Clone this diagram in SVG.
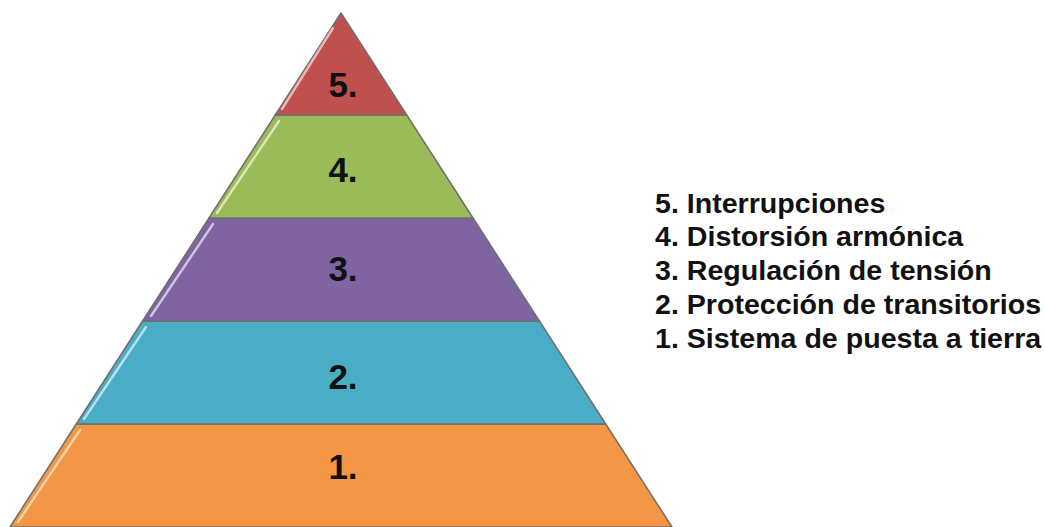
<svg xmlns="http://www.w3.org/2000/svg" width="1045" height="527" viewBox="0 0 1045 527">
  <style>
    .band { stroke: #6f6f6f; stroke-width: 1.5; stroke-linejoin: round; }
    .hl { fill: none; stroke-width: 2.4; stroke-linecap: round; opacity: 0.8; }
    .num { font-family: "Liberation Sans", Arial, sans-serif; font-weight: bold; font-size: 35px; fill: #111; text-anchor: middle; }
    .leg { font-family: "Liberation Sans", Arial, sans-serif; font-weight: bold; font-size: 27.5px; fill: #111; }
  </style>
  <rect width="1045" height="527" fill="#ffffff"/>
  <g id="level1">
    <polygon class="band" points="76.3,424 605.7,424 672,527 10,527" fill="#F39645"/>
    <line class="hl" x1="80" y1="430" x2="18" y2="522" stroke="#FFE2C0"/>
    <text class="num" x="343" y="479">1.</text>
  </g>
  <g id="level2">
    <polygon class="band" points="142.6,321 539.4,321 605.7,424 76.3,424" fill="#4BACC6"/>
    <line class="hl" x1="146" y1="327" x2="84" y2="419" stroke="#D0F0F8"/>
    <text class="num" x="343" y="389">2.</text>
  </g>
  <g id="level3">
    <polygon class="band" points="209,218 473,218 539.4,321 142.6,321" fill="#8064A2"/>
    <line class="hl" x1="213" y1="224" x2="151" y2="316" stroke="#E6DAF4"/>
    <text class="num" x="343" y="281">3.</text>
  </g>
  <g id="level4">
    <polygon class="band" points="275.3,115 406.7,115 473,218 209,218" fill="#9BBB59"/>
    <line class="hl" x1="279" y1="121" x2="217" y2="213" stroke="#E8F5D0"/>
    <text class="num" x="343" y="182">4.</text>
  </g>
  <g id="level5">
    <polygon class="band" points="341,13 406.7,115 275.3,115" fill="#C0504D"/>
    <line class="hl" x1="333" y1="28" x2="282" y2="109" stroke="#F8D0CE"/>
    <text class="num" x="343" y="97">5.</text>
  </g>
  <g id="legend" transform="translate(655,0) scale(1.04,1)">
    <text class="leg" x="0" y="213">5. Interrupciones</text>
    <text class="leg" x="0" y="246.5">4. Distorsión armónica</text>
    <text class="leg" x="0" y="280">3. Regulación de tensión</text>
    <text class="leg" x="0" y="314">2. Protección de transitorios</text>
    <text class="leg" x="0" y="348">1. Sistema de puesta a tierra</text>
  </g>
</svg>
